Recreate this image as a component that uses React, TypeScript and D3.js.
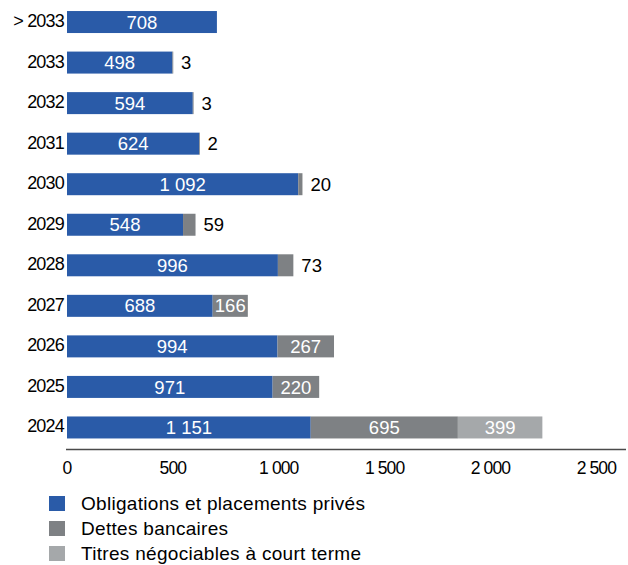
import React from "react";
import * as d3 from "d3";

const categories = ["> 2033", "2033", "2032", "2031", "2030", "2029", "2028", "2027", "2026", "2025", "2024"];
const obligations = [708, 498, 594, 624, 1092, 548, 996, 688, 994, 971, 1151];
const dettes = [0, 3, 3, 2, 20, 59, 73, 166, 267, 220, 695];
const titres = [0, 0, 0, 0, 0, 0, 0, 0, 0, 0, 399];
const seriesNames = ["Obligations et placements privés", "Dettes bancaires", "Titres négociables à court terme"];
const seriesColors = ["#2A5BA8", "#7E8184", "#A5A8AA"];
const xTicks = [0, 500, 1000, 1500, 2000, 2500];

const W = 628;
const H = 565;
const FONT = "'Liberation Sans', Arial, sans-serif";

export default function App() {
  const x = d3.scaleLinear().domain([0, 2640]).range([67, 626]);
  const y = d3
    .scaleBand<string>()
    .domain(categories)
    .range([0.9, 448.6])
    .paddingInner(0.4575)
    .paddingOuter(0.25);

  const rows = categories.map((c, i) => ({ cat: c, values: [obligations[i], dettes[i], titres[i]] }));
  const stack = d3
    .stack<any>()
    .keys(["0", "1", "2"])
    .value((d: any, k: string) => d.values[+k]);
  const stacked = stack(rows as any);

  const fmt = (v: number) => d3.format(",")(v).replace(/,/g, " ");
  const axisY = 449.5;

  return (
    <svg
      width={W}
      height={H}
      style={{ position: "absolute", left: 0, top: 0, background: "#fff" }}
      fontFamily={FONT}
    >
      {stacked.map((layer, si) =>
        layer.map((seg, ci) => {
          const v = seg[1] - seg[0];
          if (v <= 0) return null;
          const x0 = x(seg[0]);
          const x1 = x(seg[1]);
          const yy = y(categories[ci])!;
          const bw = y.bandwidth();
          const wide = x1 - x0 >= 25;
          const isLast = stacked.every((l, sj) => sj <= si || l[ci][1] - l[ci][0] <= 0);
          return (
            <g key={`${si}-${ci}`}>
              <rect x={x0} y={yy} width={Math.max(x1 - x0, 0.8)} height={bw} fill={seriesColors[si]} />
              {wide ? (
                <text
                  x={(x0 + x1) / 2}
                  y={yy + bw / 2}
                  dy="0.36em"
                  textAnchor="middle"
                  fill="#fff"
                  fontSize={18.5}
                >
                  {fmt(v)}
                </text>
              ) : isLast ? (
                <text x={x1 + 8} y={yy + bw / 2} dy="0.36em" fill="#000" fontSize={18.5}>
                  {fmt(v)}
                </text>
              ) : null}
            </g>
          );
        })
      )}
      {categories.map((c) => (
        <text
          key={c}
          x={64}
          y={y(c)! + y.bandwidth() / 2 - 1.5}
          dy="0.36em"
          textAnchor="end"
          fontSize={18}
          fill="#000"
          letterSpacing={-0.8}
        >
          {c}
        </text>
      ))}
      <line x1={x(0) - 1} x2={x.range()[1]} y1={axisY} y2={axisY} stroke="#4a4a4a" strokeWidth={1.5} />
      {xTicks.map((t) => (
        <text
          key={t}
          x={x(t)}
          y={axisY + 18}
          dy="0.36em"
          textAnchor="middle"
          fontSize={17.5}
          fill="#000"
          letterSpacing={-0.9}
        >
          {fmt(t)}
        </text>
      ))}
      {seriesNames.map((n, i) => (
        <g key={n} transform={`translate(49, ${496 + i * 25})`}>
          <rect x={0} y={0} width={16} height={15} fill={seriesColors[i]} />
          <text x={32} y={7.5} dy="0.36em" fontSize={19} fill="#000" letterSpacing={0.3}>
            {n}
          </text>
        </g>
      ))}
    </svg>
  );
}
